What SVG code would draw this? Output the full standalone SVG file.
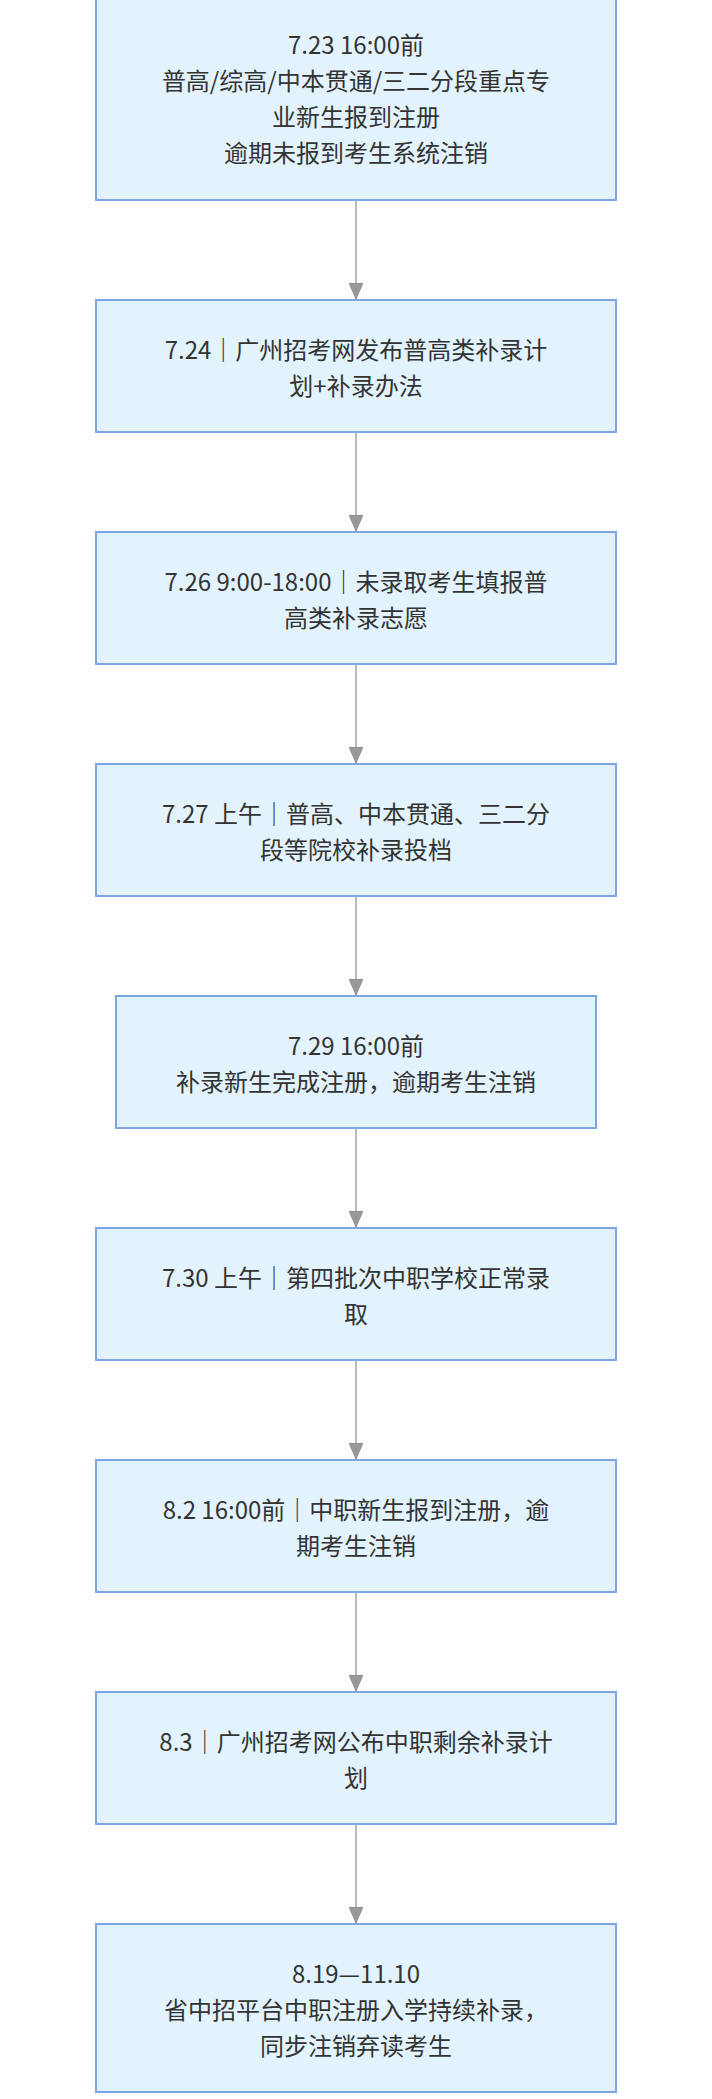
<svg xmlns="http://www.w3.org/2000/svg" width="712" height="2099" viewBox="0 0 712 2099">
<defs>
<style>
.box{fill:#e3f3fd;stroke:#7ea6e2;stroke-width:2}
.t{font-family:"Noto Sans CJK SC","Noto Sans",sans-serif;font-size:24px;fill:#333;text-anchor:middle;dominant-baseline:central}
.edge{stroke:#aaaaaa;stroke-width:1.6;fill:none}
</style>
<marker id="arr" viewBox="0 0 16 14" refX="16" refY="7" markerWidth="16" markerHeight="14" markerUnits="userSpaceOnUse" orient="auto">
<path d="M0,0 L16,7 L0,14 Z" fill="#999" stroke="#888" stroke-width="0.8"/>
</marker>
</defs>
<rect width="712" height="2099" fill="#ffffff"/>
<g id="edges">
<path class="edge" d="M356,200 V299" marker-end="url(#arr)"/>
<path class="edge" d="M356,432 V531" marker-end="url(#arr)"/>
<path class="edge" d="M356,664 V763" marker-end="url(#arr)"/>
<path class="edge" d="M356,896 V995" marker-end="url(#arr)"/>
<path class="edge" d="M356,1128 V1227" marker-end="url(#arr)"/>
<path class="edge" d="M356,1360 V1459" marker-end="url(#arr)"/>
<path class="edge" d="M356,1592 V1691" marker-end="url(#arr)"/>
<path class="edge" d="M356,1824 V1923" marker-end="url(#arr)"/>
</g>
<g id="n1"><rect class="box" x="96" y="-5" width="520" height="205"/>
<text class="t" x="356" y="43.5">7.23 16:00前</text>
<text class="t" x="356" y="79.5">普高/综高/中本贯通/三二分段重点专</text>
<text class="t" x="356" y="115.5">业新生报到注册</text>
<text class="t" x="356" y="151.5">逾期未报到考生系统注销</text></g>
<g id="n2"><rect class="box" x="96" y="300" width="520" height="132"/>
<text class="t" x="356" y="348">7.24｜广州招考网发布普高类补录计</text>
<text class="t" x="356" y="384">划+补录办法</text></g>
<g id="n3"><rect class="box" x="96" y="532" width="520" height="132"/>
<text class="t" x="356" y="580">7.26 9:00-18:00｜未录取考生填报普</text>
<text class="t" x="356" y="616">高类补录志愿</text></g>
<g id="n4"><rect class="box" x="96" y="764" width="520" height="132"/>
<text class="t" x="356" y="812">7.27 上午｜普高、中本贯通、三二分</text>
<text class="t" x="356" y="848">段等院校补录投档</text></g>
<g id="n5"><rect class="box" x="116" y="996" width="480" height="132"/>
<text class="t" x="356" y="1044">7.29 16:00前</text>
<text class="t" x="356" y="1080">补录新生完成注册，逾期考生注销</text></g>
<g id="n6"><rect class="box" x="96" y="1228" width="520" height="132"/>
<text class="t" x="356" y="1276">7.30 上午｜第四批次中职学校正常录</text>
<text class="t" x="356" y="1312">取</text></g>
<g id="n7"><rect class="box" x="96" y="1460" width="520" height="132"/>
<text class="t" x="356" y="1508">8.2 16:00前｜中职新生报到注册，逾</text>
<text class="t" x="356" y="1544">期考生注销</text></g>
<g id="n8"><rect class="box" x="96" y="1692" width="520" height="132"/>
<text class="t" x="356" y="1740">8.3｜广州招考网公布中职剩余补录计</text>
<text class="t" x="356" y="1776">划</text></g>
<g id="n9"><rect class="box" x="96" y="1924" width="520" height="168"/>
<text class="t" x="356" y="1972">8.19—11.10</text>
<text class="t" x="356" y="2008">省中招平台中职注册入学持续补录，</text>
<text class="t" x="356" y="2044">同步注销弃读考生</text></g>
</svg>
